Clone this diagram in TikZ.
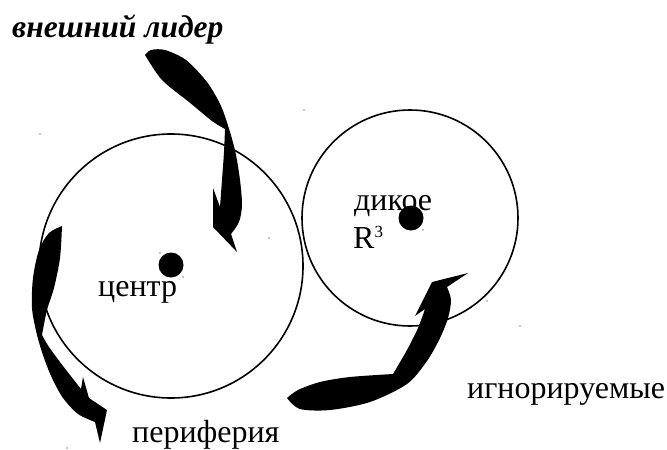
\documentclass[tikz,border=0pt]{standalone}
\usepackage{fontspec}
\setmainfont{Liberation Serif}
\begin{document}
\begin{tikzpicture}[x=1pt,y=-1pt,
  ring/.style={draw=black,line width=1.6pt},
  blob/.style={fill=black},
  lbl/.style={anchor=base west,inner sep=0pt,font=\fontsize{32}{37}\selectfont},
  speck/.style={fill=black!45}]
\useasboundingbox (0,0) rectangle (667,450);
% circles
\node[ring,circle,minimum size=264pt,inner sep=0pt] (big) at (171,266) {};
\node[ring,circle,minimum size=216pt,inner sep=0pt] (wild) at (410,218) {};
% labels
\node[anchor=base west,inner sep=0pt,font=\fontsize{31.5}{36}\selectfont\bfseries\itshape] (lead) at (12,37) {внешний лидер};
\node[lbl] (ctr) at (98,296) {центр};
\node[lbl] (per) at (132,442) {периферия};
\node[lbl] (ign) at (467,398) {игнорируемые};
\node[lbl] (dik) at (354,210) {дикое};
\node[lbl] (rr) at (353,248) {R\raisebox{11pt}{\fontsize{17}{17}\selectfont 3}};
% dots
\fill (171,265) circle (12.5);
\fill (411,218) circle (12.5);
% arrow 1 (top, outer leader)
\fill[blob] (145,55) -- plot[smooth] coordinates {(145,55) (151,50) (165,50) (186,60) (207,82) (221,106) (230,132) (236,155) (240,180) (242,205) (239,222) (231,234)}
  -- (237,252) -- (213,227) -- (213,188) -- (220,207)
  -- plot[smooth] coordinates {(220,207) (222,180) (224,152) (225,129)}
  -- plot[smooth] coordinates {(225,129) (212,121) (189,102) (162,80) (145,55)} -- cycle;
% arrow 2 (left, periphery)
\fill[blob] (62,226) -- plot[smooth] coordinates {(62,226) (49,233) (39,250) (33,278) (32,308) (37,335) (44,358) (52,378) (63,398) (78,414) (95,422)}
  -- (100,443) -- (107,410) -- (89,398) -- (83,377) -- (81,389)
  -- plot[smooth] coordinates {(81,389) (63,366) (49,347) (42,335)}
  -- plot[smooth] coordinates {(42,335) (47,310) (54,288) (60,258) (62,226)} -- cycle;
% arrow 3 (bottom right, ignored)
\fill[blob] (287,398) -- plot[smooth] coordinates {(287,398) (298,390) (320,382) (350,377) (393,374)}
  -- plot[smooth] coordinates {(393,374) (407,350) (418,328) (425,309)}
  -- (415,316) -- (432,282) -- (468,273) -- (447,287)
  -- plot[smooth] coordinates {(447,287) (451,300) (448,318) (440,338) (427,361) (407,384) (370,402) (330,410) (300,409) (287,398)} -- cycle;
% specks
\foreach \p in {(40,134),(304,110),(160,253),(183,277),(269,238),(423,230),(487,301),(520,326),(67,448)}
  \fill[speck] \p circle (0.8);
\end{tikzpicture}
\end{document}
